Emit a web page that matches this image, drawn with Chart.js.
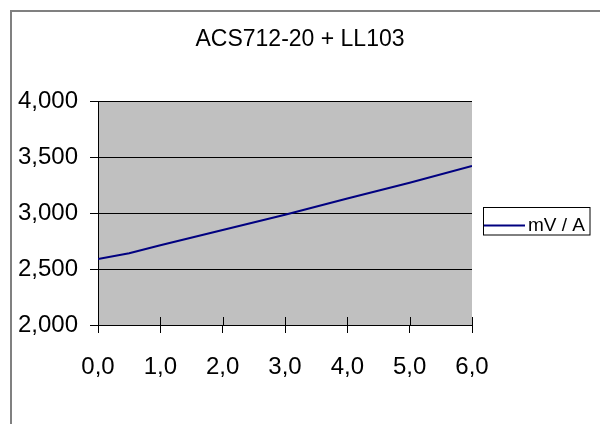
<!DOCTYPE html>
<html>
<head>
<meta charset="utf-8">
<script src="https://cdn.jsdelivr.net/npm/chart.js@4/dist/chart.umd.min.js"></script>
<style>
  html, body { margin: 0; padding: 0; background: #fff; }
  #wrap { width: 600px; height: 424px; position: relative; }
</style>
</head>
<body>
<div id="wrap"><canvas id="c" width="600" height="424"></canvas></div>
<script>
const chartTitle = 'ACS712-20 + LL103';
const seriesLabel = 'mV / A';
const currentA = [0, 0.5, 1, 2, 3, 4, 5, 6];
const mvPerA = [2590, 2640, 2712, 2848, 2985, 3130, 3270, 3420];
const yMin = 2000, yMax = 4000, yStep = 500;
const xMin = 0, xMax = 6, xStep = 1;

const FONT = "'Liberation Sans', Arial, sans-serif";

const decor = {
  id: 'decor',
  beforeDraw(chart) {
    const ctx = chart.ctx, a = chart.chartArea;
    ctx.save();
    ctx.fillStyle = '#ffffff';
    ctx.fillRect(0, 0, chart.width, chart.height);
    ctx.fillStyle = '#c0c0c0';
    ctx.fillRect(a.left, a.top, a.right - a.left, a.bottom - a.top);
    ctx.strokeStyle = '#808080';
    ctx.lineWidth = 2;
    ctx.beginPath();
    ctx.moveTo(11, chart.height);
    ctx.lineTo(11, 11);
    ctx.lineTo(chart.width, 11);
    ctx.stroke();
    ctx.restore();
  },
  afterDatasetsDraw(chart) {
    const ctx = chart.ctx, xs = chart.scales.x, a = chart.chartArea;
    ctx.save();
    ctx.strokeStyle = '#000';
    ctx.lineWidth = 1;
    xs.ticks.forEach(t => {
      const px = Math.round(xs.getPixelForValue(t.value)) + 0.5;
      ctx.beginPath();
      ctx.moveTo(px, a.bottom - 8);
      ctx.lineTo(px, a.bottom);
      ctx.stroke();
    });
    ctx.restore();
  },
  afterDraw(chart) {
    const ctx = chart.ctx;
    const ds = chart.data.datasets[0];
    ctx.save();
    ctx.strokeStyle = '#000';
    ctx.lineWidth = 1;
    ctx.strokeRect(483.5, 207.5, 106.5, 27.5);
    ctx.strokeStyle = ds.borderColor;
    ctx.lineWidth = 2;
    ctx.beginPath();
    ctx.moveTo(484, 225.5);
    ctx.lineTo(525, 225.5);
    ctx.stroke();
    ctx.fillStyle = '#000';
    ctx.font = '19px ' + FONT;
    ctx.textBaseline = 'middle';
    ctx.textAlign = 'left';
    ctx.fillText(ds.label, 528, 226);
    ctx.restore();
  }
};

new Chart(document.getElementById('c'), {
  type: 'line',
  data: {
    datasets: [{
      label: seriesLabel,
      data: currentA.map((x, i) => ({ x: x, y: mvPerA[i] })),
      borderColor: '#000080',
      borderWidth: 2,
      pointRadius: 0,
      tension: 0,
      fill: false,
      yAxisID: 'y'
    }]
  },
  options: {
    responsive: false,
    animation: false,
    devicePixelRatio: 1,
    layout: { padding: 0 },
    plugins: {
      legend: { display: false },
      tooltip: { enabled: false },
      title: {
        display: true,
        text: chartTitle,
        color: '#000',
        font: { family: FONT, size: 23, weight: 'normal', lineHeight: 1.2 },
        padding: { top: 26, bottom: 47.4 }
      }
    },
    scales: {
      x: {
        type: 'linear',
        min: xMin, max: xMax,
        afterFit(s) { s.height = 99; },
        ticks: {
          stepSize: xStep,
          color: '#000',
          padding: 19.6,
          maxRotation: 0,
          font: { family: FONT, size: 24, lineHeight: 1.2 },
          callback: v => v.toFixed(1).replace('.', ',')
        },
        grid: { drawOnChartArea: false, drawTicks: true, tickLength: 8, color: '#000', lineWidth: 1 },
        border: { display: true, color: '#000', width: 1 }
      },
      y: {
        type: 'linear',
        position: 'left',
        min: yMin, max: yMax,
        afterFit(s) { s.width = 98; },
        ticks: {
          stepSize: yStep,
          color: '#000',
          padding: 12,
          font: { family: FONT, size: 24, lineHeight: 1.2 },
          callback: v => Math.floor(v / 1000) + ',' + String(v % 1000).padStart(3, '0')
        },
        grid: { drawOnChartArea: true, drawTicks: true, tickLength: 8, color: '#000', lineWidth: 1 },
        border: { display: true, color: '#000', width: 1 }
      },
      legendSpace: {
        type: 'linear',
        position: 'right',
        min: 0, max: 1,
        afterFit(s) { s.width = 128; },
        ticks: { display: false },
        grid: { display: false, drawTicks: false },
        border: { display: false }
      }
    }
  },
  plugins: [decor]
});
</script>
</body>
</html>
